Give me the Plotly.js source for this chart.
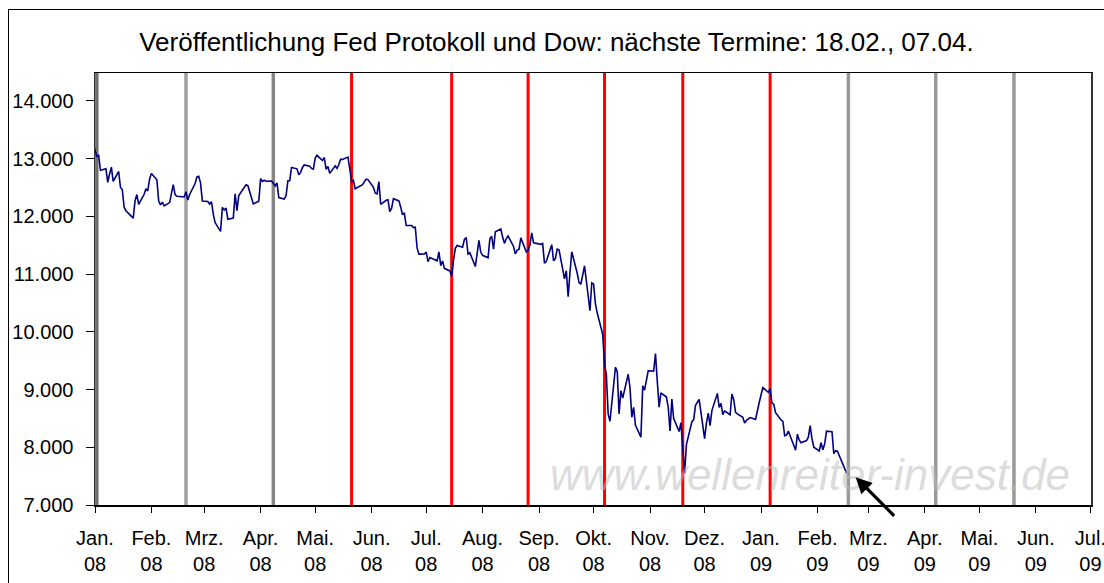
<!DOCTYPE html>
<html>
<head>
<meta charset="utf-8">
<script src="https://cdn.plot.ly/plotly-3.0.1.min.js"></script>
<style>
html,body{margin:0;padding:0;background:#fff;}
#wrap{position:relative;width:1104px;height:583px;overflow:hidden;}
#chart{width:1104px;height:583px;}
#frame{position:absolute;left:8px;top:9px;width:1200px;height:700px;border-left:1.5px solid #000;border-top:1.5px solid #000;pointer-events:none;}
</style>
</head>
<body>
<div id="wrap"><div id="chart"></div><div id="frame"></div></div>
<script>
// ---- Data ----
const titleText = "Veröffentlichung Fed Protokoll und Dow: nächste Termine: 18.02., 07.04.";
const watermarkText = "www.wellenreiter-invest.de";

const dowDates = [
"2007-12-31",
"2008-01-02","2008-01-03","2008-01-04","2008-01-07","2008-01-08","2008-01-09","2008-01-10","2008-01-11","2008-01-14","2008-01-15","2008-01-16","2008-01-17","2008-01-18","2008-01-22","2008-01-23","2008-01-24","2008-01-25","2008-01-28","2008-01-29","2008-01-30","2008-01-31",
"2008-02-01","2008-02-04","2008-02-05","2008-02-06","2008-02-07","2008-02-08","2008-02-11","2008-02-12","2008-02-13","2008-02-14","2008-02-15","2008-02-19","2008-02-20","2008-02-21","2008-02-22","2008-02-25","2008-02-26","2008-02-27","2008-02-28","2008-02-29",
"2008-03-03","2008-03-04","2008-03-05","2008-03-06","2008-03-07","2008-03-10","2008-03-11","2008-03-12","2008-03-13","2008-03-14","2008-03-17","2008-03-18","2008-03-19","2008-03-20","2008-03-24","2008-03-25","2008-03-26","2008-03-27","2008-03-28","2008-03-31",
"2008-04-01","2008-04-02","2008-04-03","2008-04-04","2008-04-07","2008-04-08","2008-04-09","2008-04-10","2008-04-11","2008-04-14","2008-04-15","2008-04-16","2008-04-17","2008-04-18","2008-04-21","2008-04-22","2008-04-23","2008-04-24","2008-04-25","2008-04-28","2008-04-29","2008-04-30",
"2008-05-01","2008-05-02","2008-05-05","2008-05-06","2008-05-07","2008-05-08","2008-05-09","2008-05-12","2008-05-13","2008-05-14","2008-05-15","2008-05-16","2008-05-19","2008-05-20","2008-05-21","2008-05-22","2008-05-23","2008-05-27","2008-05-28","2008-05-29","2008-05-30",
"2008-06-02","2008-06-03","2008-06-04","2008-06-05","2008-06-06","2008-06-09","2008-06-10","2008-06-11","2008-06-12","2008-06-13","2008-06-16","2008-06-17","2008-06-18","2008-06-19","2008-06-20","2008-06-23","2008-06-24","2008-06-25","2008-06-26","2008-06-27","2008-06-30",
"2008-07-01","2008-07-02","2008-07-03","2008-07-07","2008-07-08","2008-07-09","2008-07-10","2008-07-11","2008-07-14","2008-07-15","2008-07-16","2008-07-17","2008-07-18","2008-07-21","2008-07-22","2008-07-23","2008-07-24","2008-07-25","2008-07-28","2008-07-29","2008-07-30","2008-07-31",
"2008-08-01","2008-08-04","2008-08-05","2008-08-06","2008-08-07","2008-08-08","2008-08-11","2008-08-12","2008-08-13","2008-08-14","2008-08-15","2008-08-18","2008-08-19","2008-08-20","2008-08-21","2008-08-22","2008-08-25","2008-08-26","2008-08-27","2008-08-28","2008-08-29",
"2008-09-02","2008-09-03","2008-09-04","2008-09-05","2008-09-08","2008-09-09","2008-09-10","2008-09-11","2008-09-12","2008-09-15","2008-09-16","2008-09-17","2008-09-18","2008-09-19","2008-09-22","2008-09-23","2008-09-24","2008-09-25","2008-09-26","2008-09-29","2008-09-30",
"2008-10-01","2008-10-02","2008-10-03","2008-10-06","2008-10-07","2008-10-08","2008-10-09","2008-10-10","2008-10-13","2008-10-14","2008-10-15","2008-10-16","2008-10-17","2008-10-20","2008-10-21","2008-10-22","2008-10-23","2008-10-24","2008-10-27","2008-10-28","2008-10-29","2008-10-30","2008-10-31",
"2008-11-03","2008-11-04","2008-11-05","2008-11-06","2008-11-07","2008-11-10","2008-11-11","2008-11-12","2008-11-13","2008-11-14","2008-11-17","2008-11-18","2008-11-19","2008-11-20","2008-11-21","2008-11-24","2008-11-25","2008-11-26","2008-11-28",
"2008-12-01","2008-12-02","2008-12-03","2008-12-04","2008-12-05","2008-12-08","2008-12-09","2008-12-10","2008-12-11","2008-12-12","2008-12-15","2008-12-16","2008-12-17","2008-12-18","2008-12-19","2008-12-22","2008-12-23","2008-12-24","2008-12-26","2008-12-29","2008-12-30","2008-12-31",
"2009-01-02","2009-01-05","2009-01-06","2009-01-07","2009-01-08","2009-01-09","2009-01-12","2009-01-13","2009-01-14","2009-01-15","2009-01-16","2009-01-20","2009-01-21","2009-01-22","2009-01-23","2009-01-26","2009-01-27","2009-01-28","2009-01-29","2009-01-30",
"2009-02-02","2009-02-03","2009-02-04","2009-02-05","2009-02-06","2009-02-09","2009-02-10","2009-02-11","2009-02-12","2009-02-13","2009-02-17"
];

const dowValues = [
13264.82,
13043.96,13056.72,12800.18,12827.49,12589.07,12735.31,12853.09,12606.30,12778.15,12501.11,12466.16,12159.21,12099.30,11971.19,12270.17,12378.61,12207.17,12383.89,12480.30,12442.83,12650.36,
12743.19,12635.16,12265.13,12200.10,12247.00,12182.13,12240.01,12373.41,12552.24,12376.98,12348.21,12337.22,12427.26,12284.30,12381.02,12570.22,12684.92,12694.28,12582.18,12266.39,
12258.90,12213.80,12254.99,12040.39,11893.69,11740.15,12156.81,12110.24,12145.74,11951.09,11972.25,12392.66,12099.66,12361.32,12548.64,12532.60,12422.86,12302.46,12216.40,12262.89,
12654.36,12605.83,12626.03,12609.42,12612.43,12576.44,12527.26,12581.98,12325.42,12302.06,12362.47,12619.27,12620.49,12849.36,12825.02,12720.23,12763.22,12848.95,12891.86,12871.75,12831.45,12820.13,
13010.00,13058.20,12969.54,13020.83,12814.35,12866.78,12745.88,12876.05,12832.18,12898.38,12992.66,12986.80,13028.16,12828.68,12601.19,12625.62,12479.63,12548.35,12594.03,12646.22,12638.32,
12503.82,12402.85,12390.48,12604.45,12209.81,12280.32,12289.76,12083.77,12141.58,12307.35,12269.08,12160.30,12029.06,12063.09,11842.69,11842.36,11807.43,11811.83,11453.42,11346.51,11350.01,
11382.26,11215.51,11288.53,11231.96,11384.21,11147.44,11229.02,11100.54,11055.19,10962.54,11238.39,11446.66,11496.57,11467.34,11602.50,11632.38,11349.28,11370.69,11131.08,11397.56,11583.69,11378.02,
11326.32,11284.15,11615.77,11656.07,11431.43,11734.32,11782.35,11642.47,11532.96,11615.93,11659.90,11479.39,11348.55,11417.43,11430.21,11628.06,11386.25,11412.87,11502.51,11715.18,11543.55,
11516.92,11532.88,11188.23,11220.96,11510.74,11230.73,11268.92,11433.71,11421.99,10917.51,11059.02,10609.66,11019.69,11388.44,11015.69,10854.17,10825.17,11022.06,11143.13,10365.45,10850.66,
10831.07,10482.85,10325.38,9955.50,9447.11,9258.10,8579.19,8451.19,9387.61,9310.99,8577.91,8979.26,8852.22,9265.43,9033.66,8519.21,8691.25,8378.95,8175.77,9065.12,8990.96,9180.69,9325.01,
9319.83,9625.28,9139.27,8695.79,8943.81,8870.54,8693.96,8282.66,8835.25,8497.31,8273.58,8424.75,7997.28,7552.29,8046.42,8443.39,8479.47,8726.61,8829.04,
8149.09,8419.09,8591.69,8376.24,8635.42,8934.18,8691.33,8761.42,8565.09,8629.68,8564.53,8924.14,8824.34,8604.99,8579.11,8519.69,8419.49,8468.48,8515.55,8483.93,8668.39,8776.39,
9034.69,8952.89,9015.10,8769.70,8742.46,8599.18,8473.97,8448.56,8200.14,8212.49,8281.22,7949.09,8228.10,8122.80,8077.56,8116.03,8174.73,8375.45,8149.01,8000.86,
7936.75,8078.36,7956.66,8063.07,8280.59,8270.87,7888.88,7939.53,7932.76,7850.41,7552.60
];

// Fed minutes release dates
const fedRedDates  = ["2008-05-21","2008-07-15","2008-08-26","2008-10-07","2008-11-19","2009-01-06"];
const fedGrayDates = ["2008-01-02","2008-02-20","2008-04-08","2009-02-18","2009-04-07","2009-05-20"];

// Axis ticks
const tickDates  = ["2008-01-01","2008-02-01","2008-03-01","2008-04-01","2008-05-01","2008-06-01","2008-07-01","2008-08-01","2008-09-01","2008-10-01","2008-11-01","2008-12-01","2009-01-01","2009-02-01","2009-03-01","2009-04-01","2009-05-01","2009-06-01","2009-07-01"];
const tickMonths = ["Jan.","Feb.","Mrz.","Apr.","Mai.","Jun.","Jul.","Aug.","Sep.","Okt.","Nov.","Dez.","Jan.","Feb.","Mrz.","Apr.","Mai.","Jun.","Jul."];
const tickYears  = ["08","08","08","08","08","08","08","08","08","08","08","08","09","09","09","09","09","09","09"];
const yTicks = [7000,8000,9000,10000,11000,12000,13000,14000];

// Arrow target (next release, end of series)
const arrowX = "2009-02-22";
const arrowY = 7480;

// ---- Build ----
const grayColors = ["#707070","#a0a0a0","#858585","#999999","#999999","#999999"];
const shapes = [];
fedGrayDates.forEach((d,i)=>shapes.push({type:"line",xref:"x",yref:"paper",x0:d,x1:d,y0:0,y1:1,layer:"below",line:{color:grayColors[i],width:3.5}}));
fedRedDates.forEach(d=>shapes.push({type:"line",xref:"x",yref:"paper",x0:d,x1:d,y0:0,y1:1,layer:"below",line:{color:"#ff0000",width:3}}));

const trace = {
  x: dowDates, y: dowValues, type: "scatter", mode: "lines",
  line: {color: "#000080", width: 1.6}, hoverinfo: "skip", cliponaxis: true
};

const layout = {
  width: 1104, height: 583,
  margin: {l: 95, r: 13, t: 73, b: 78},
  paper_bgcolor: "#ffffff", plot_bgcolor: "#ffffff",
  separators: ",.",
  showlegend: false,
  font: {family: "Liberation Sans, Arial, sans-serif", color: "#000", size: 20},
  title: {text: titleText, font: {size: 26, color: "#000", family: "Liberation Sans, Arial, sans-serif"},
          xref: "container", x: 0.504, xanchor: "center", yref: "container", y: 0.928, yanchor: "middle"},
  xaxis: {
    type: "date", range: ["2008-01-01", "2009-07-01 08:00"],
    tickvals: tickDates, ticktext: tickMonths.map((m,i)=>m + "<br>" + tickYears[i]),
    ticks: "outside", ticklen: 6, tickcolor: "#000", tickwidth: 1,
    showgrid: false, zeroline: false,
    showline: true, linecolor: "#000", linewidth: 1.5, mirror: true,
    tickfont: {size: 20}, ticklabelstandoff: 8, ticklabeloverflow: "allow", fixedrange: true
  },
  yaxis: {
    range: [7000, 14485], tickvals: yTicks, tickformat: ",d", separatethousands: true,
    ticks: "outside", ticklen: 8, tickcolor: "#000", tickwidth: 1,
    showgrid: false, zeroline: false,
    showline: true, linecolor: "#333", linewidth: 1.5, mirror: true,
    tickfont: {size: 20}, ticklabelstandoff: 8, fixedrange: true
  },
  shapes: shapes,
  annotations: [
    {text: watermarkText, xref: "paper", yref: "paper", x: 0.718, y: 0.07, xanchor: "center", yanchor: "middle",
     showarrow: false, font: {size: 44, color: "rgba(185,185,185,0.5)", family: "Liberation Sans, Arial, sans-serif", style: "italic"}},
    {text: "", x: arrowX, y: arrowY, xref: "x", yref: "y", showarrow: true, ax: 40, ay: 40,
     arrowhead: 2, arrowsize: 1, arrowwidth: 3.2, arrowcolor: "#000"}
  ]
};

Plotly.newPlot("chart", [trace], layout, {displayModeBar: false, staticPlot: true});
</script>
</body>
</html>
